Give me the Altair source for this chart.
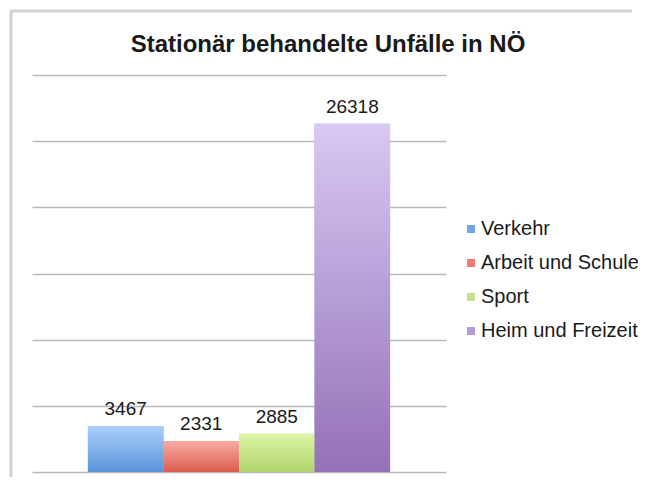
import altair as alt
import pandas as pd

categories = ["Verkehr", "Arbeit und Schule", "Sport", "Heim und Freizeit"]
values = [3467, 2331, 2885, 26318]
legend_colors = ["#6fa6e6", "#ee7d72", "#c3e38a", "#b39ad8"]
grad_top = ["#abcffb", "#f8aba4", "#ddf4a6", "#d8c8f3"]
grad_bottom = ["#5993d6", "#dd5c4e", "#b0d46b", "#9371b7"]
y_ticks = [0, 5000, 10000, 15000, 20000, 25000, 30000]
chart_title = "Stationär behandelte Unfälle in NÖ"

FONT = "Liberation Sans"
TEXT = "#1a1a1a"

df = pd.DataFrame({"cat": categories, "val": values})

x_enc = alt.X("cat:N", sort=categories,
              scale=alt.Scale(paddingInner=0, paddingOuter=0.74), axis=None)
y_enc = alt.Y("val:Q", scale=alt.Scale(domain=[0, 30000], nice=False),
              axis=alt.Axis(values=y_ticks, grid=True, labels=False, ticks=False,
                            domain=False, title=None, gridColor="#b8b8b8",
                            gridWidth=1.5))

base = alt.Chart(df).encode(x=x_enc, y=y_enc)

legend_layer = base.mark_bar().encode(
    color=alt.Color("cat:N", sort=categories,
                    scale=alt.Scale(domain=categories, range=legend_colors),
                    legend=alt.Legend(title=None, orient="none", legendX=429,
                                      legendY=144, symbolType="square",
                                      symbolSize=64, symbolStrokeWidth=0,
                                      labelFontSize=20, labelFont=FONT,
                                      labelColor=TEXT, rowPadding=14,
                                      labelOffset=0, padding=0))
)

grad_layers = []
for c, t, b in zip(categories, grad_top, grad_bottom):
    grad_layers.append(
        base.transform_filter(alt.datum.cat == c).mark_bar(
            color=alt.Gradient(gradient="linear",
                               stops=[alt.GradientStop(color=t, offset=0),
                                      alt.GradientStop(color=b, offset=1)],
                               x1=0, x2=0, y1=0, y2=1)
        )
    )

labels = base.mark_text(baseline="alphabetic", dy=-11, fontSize=19, font=FONT,
                        color=TEXT).encode(text="val:Q")

frame_df = pd.DataFrame({"title": [chart_title]})
frame_left = alt.Chart(frame_df).mark_rule(color="#d2d2d2", strokeWidth=3).encode(
    x=alt.value(-21), y=alt.value(-64), y2=alt.value(402))
frame_top = alt.Chart(frame_df).mark_rule(color="#d2d2d2", strokeWidth=3).encode(
    x=alt.value(-22), x2=alt.value(600), y=alt.value(-64))
title_text = alt.Chart(frame_df).mark_text(
    fontSize=24, fontWeight="bold", font=FONT, color=TEXT,
    baseline="alphabetic", align="center"
).encode(text="title:N", x=alt.value(296), y=alt.value(-23))

chart = alt.layer(frame_left, frame_top, title_text, legend_layer, *grad_layers,
                  labels).properties(
    width=414, height=397,
    background="white",
    autosize=alt.AutoSizeParams(type="none"),
    padding={"left": 24, "top": 67, "right": 192, "bottom": 5},
).configure_view(strokeWidth=0)

chart.save("out.html", embed_options={"renderer": "svg", "actions": False})
